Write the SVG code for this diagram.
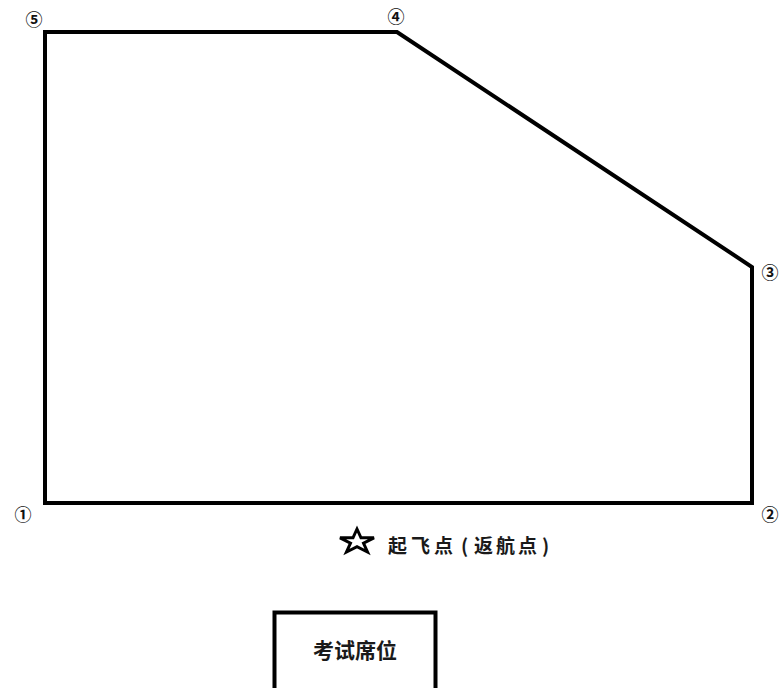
<svg xmlns="http://www.w3.org/2000/svg" width="781" height="688" viewBox="0 0 781 688">
<style>
.num{font-family:"Noto Sans CJK SC","DejaVu Sans",sans-serif;font-weight:bold;font-size:17px;fill:#111;text-anchor:middle;dominant-baseline:central}
.lbl{font-family:"Noto Sans CJK SC",sans-serif;font-weight:bold;fill:#1a1a1a}
</style>
<rect width="781" height="688" fill="#fff"/>
<g id="connectors">
<polygon points="45,32 397,32 752,267 752,503 45,503" fill="none" stroke="#000" stroke-width="4" stroke-linejoin="miter"/>
</g>
<g id="p5"><text class="num" x="34" y="18">⑤</text></g>
<g id="p4"><text class="num" x="396" y="15">④</text></g>
<g id="p3"><text class="num" x="770" y="271">③</text></g>
<g id="p1"><text class="num" x="23" y="513">①</text></g>
<g id="p2"><text class="num" x="770" y="513">②</text></g>
<g id="takeoff">
<polygon points="357,529 361,537.8 374,537.8 363.5,543.2 367.5,552 357,546.6 346.5,552 350.5,543.2 340,537.8 353,537.8" fill="#fff" stroke="#000" stroke-width="3" stroke-linejoin="miter"/>
<text class="lbl" y="553" font-size="19"><tspan x="388">起</tspan><tspan x="411">飞</tspan><tspan x="434">点</tspan><tspan x="461">(</tspan><tspan x="474">返</tspan><tspan x="496">航</tspan><tspan x="518">点</tspan><tspan x="542">)</tspan></text>
</g>
<g id="seat">
<rect x="274.5" y="612.5" width="161" height="84" fill="#fff" stroke="#000" stroke-width="4"/>
<text class="lbl" x="355" y="658" font-size="21" text-anchor="middle">考试席位</text>
</g>
</svg>
